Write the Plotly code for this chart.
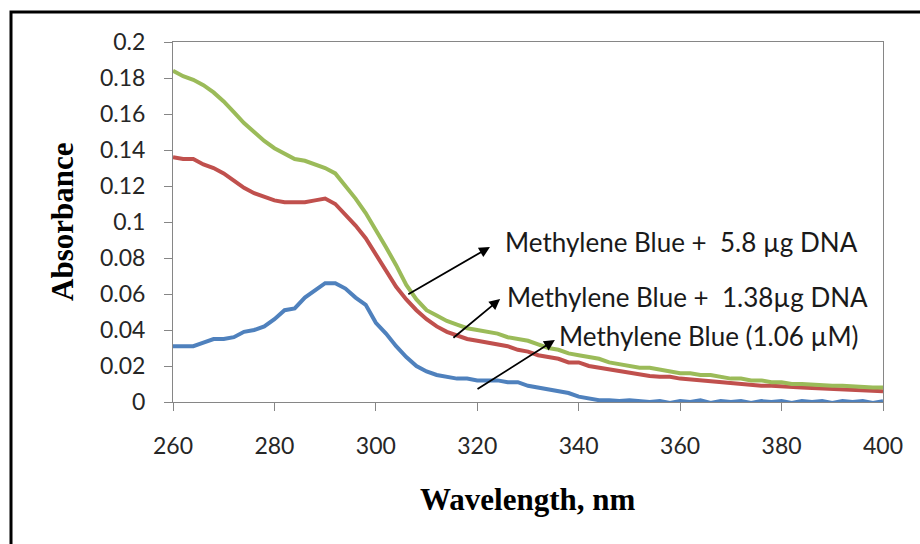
import plotly.graph_objects as go

wavelength = list(range(260, 401, 2))

mb_5_8ug = [0.184, 0.181, 0.179, 0.176, 0.172, 0.167, 0.161, 0.155, 0.150, 0.145,
            0.141, 0.138, 0.135, 0.134, 0.132, 0.130, 0.127, 0.120, 0.113, 0.105,
            0.096, 0.086, 0.076, 0.065, 0.057, 0.051, 0.048, 0.045, 0.043, 0.041,
            0.040, 0.039, 0.038, 0.036, 0.035, 0.034, 0.032, 0.030, 0.029, 0.027,
            0.026, 0.025, 0.024, 0.022, 0.021, 0.020, 0.019, 0.019, 0.018, 0.017,
            0.016, 0.016, 0.015, 0.015, 0.014, 0.013, 0.013, 0.012, 0.012, 0.011,
            0.011, 0.010, 0.010, 0.0095, 0.0095, 0.009, 0.009, 0.0085, 0.0085, 0.008,
            0.008]

mb_1_38ug = [0.136, 0.135, 0.135, 0.132, 0.130, 0.127, 0.123, 0.119, 0.116, 0.114,
             0.112, 0.111, 0.111, 0.111, 0.112, 0.113, 0.110, 0.104, 0.098, 0.091,
             0.082, 0.073, 0.064, 0.057, 0.051, 0.046, 0.042, 0.039, 0.037, 0.035,
             0.034, 0.033, 0.032, 0.031, 0.029, 0.028, 0.026, 0.025, 0.024, 0.022,
             0.022, 0.020, 0.019, 0.018, 0.017, 0.016, 0.015, 0.0145, 0.014, 0.014,
             0.013, 0.0125, 0.012, 0.0115, 0.011, 0.010, 0.010, 0.0095, 0.009, 0.009,
             0.0085, 0.008, 0.008, 0.0078, 0.0075, 0.0072, 0.007, 0.007, 0.0065, 0.0062,
             0.006]

mb_only = [0.031, 0.031, 0.031, 0.033, 0.035, 0.035, 0.036, 0.039, 0.040, 0.042,
           0.046, 0.051, 0.052, 0.058, 0.062, 0.066, 0.066, 0.063, 0.058, 0.054,
           0.044, 0.038, 0.031, 0.025, 0.020, 0.017, 0.015, 0.014, 0.013, 0.013,
           0.012, 0.012, 0.012, 0.011, 0.011, 0.009, 0.008, 0.007, 0.006, 0.005,
           0.003, 0.002, 0.001, 0.001, 0.0005, 0.001, 0.0005, 0.0, 0.0005, -0.0005,
           0.0005, 0.0, 0.001, -0.0005, 0.0005, 0.0, 0.0005, -0.0005, 0.0005, 0.0,
           0.0005, -0.0005, 0.0005, 0.0, 0.0005, -0.0005, 0.0005, 0.0, 0.0005, -0.0005,
           0.0005]

y_ticks = [0, 0.02, 0.04, 0.06, 0.08, 0.1, 0.12, 0.14, 0.16, 0.18, 0.2]
y_tick_text = ["0", "0.02", "0.04", "0.06", "0.08", "0.1", "0.12", "0.14", "0.16", "0.18", "0.2"]
x_ticks = [260, 280, 300, 320, 340, 360, 380, 400]

fig = go.Figure()
for ys, col in [(mb_only, "#4F81BD"), (mb_1_38ug, "#C0504D"), (mb_5_8ug, "#9BBB59")]:
    fig.add_trace(go.Scatter(x=wavelength, y=ys, mode="lines",
                             line=dict(color=col, width=4), showlegend=False))

tick_font = dict(family="Lato", size=23, color="#262626")
fig.update_xaxes(range=[260, 400], tickvals=x_ticks, ticks="outside", ticklen=8,
                 tickcolor="#868686", showline=True, linecolor="#868686", linewidth=1,
                 mirror=True, showgrid=False, zeroline=False, tickfont=tick_font,
                 ticklabelstandoff=15)
fig.update_yaxes(range=[0, 0.2], tickvals=y_ticks, ticktext=y_tick_text, ticks="outside",
                 ticklen=8, tickcolor="#868686", showline=True, linecolor="#868686",
                 linewidth=1, mirror=True, showgrid=False, zeroline=False,
                 tickfont=tick_font, ticklabelstandoff=14)

title_font = dict(family="Liberation Serif", size=31, color="#000000")
ann_font = dict(family="Lato", size=26, color="#1a1a1a")
annotations = [
    dict(xref="paper", yref="paper", x=(527 - 173) / 710, y=(402 - 499) / 360,
         text="<b>Wavelength, nm</b>", showarrow=False, font=title_font,
         xanchor="center", yanchor="middle"),
    dict(xref="paper", yref="paper", x=(62 - 173) / 710, y=(402 - 222) / 360,
         text="<b>Absorbance</b>", showarrow=False, font=title_font,
         xanchor="center", yanchor="middle", textangle=-90),
    # arrows
    dict(x=322.5, y=0.0861, ax=306.1, ay=0.0594, axref="x", ayref="y", text="", showarrow=True,
         arrowhead=2, arrowsize=1.2, arrowwidth=1.8, arrowcolor="#000000"),
    dict(x=324.5, y=0.0572, ax=315.0, ay=0.035, axref="x", ayref="y", text="", showarrow=True,
         arrowhead=2, arrowsize=1.2, arrowwidth=1.8, arrowcolor="#000000"),
    dict(x=335.3, y=0.0344, ax=319.75, ay=0.0067, axref="x", ayref="y", text="", showarrow=True,
         arrowhead=2, arrowsize=1.2, arrowwidth=1.8, arrowcolor="#000000"),
    # labels
    dict(x=325.1, y=0.0889, text="Methylene Blue +\u00a0\u00a05.8 µg DNA", showarrow=False,
         xanchor="left", yanchor="middle", font=ann_font),
    dict(x=325.5, y=0.0583, text="Methylene Blue +\u00a0\u00a01.38µg DNA", showarrow=False,
         xanchor="left", yanchor="middle", font=ann_font),
    dict(x=335.7, y=0.0367, text="Methylene Blue (1.06 µM)", showarrow=False,
         xanchor="left", yanchor="middle", font=ann_font),
]

fig.update_layout(
    width=920, height=544,
    margin=dict(l=173, r=37, t=42, b=142),
    plot_bgcolor="white", paper_bgcolor="white",
    annotations=annotations,
    shapes=[dict(type="rect", xref="paper", yref="paper",
                 x0=(11 - 173) / 710, x1=(940 - 173) / 710,
                 y0=(402 - 570) / 360, y1=(402 - 12) / 360,
                 line=dict(color="#000000", width=3), fillcolor="rgba(0,0,0,0)", layer="below")],
)

fig.write_html("out.html")
